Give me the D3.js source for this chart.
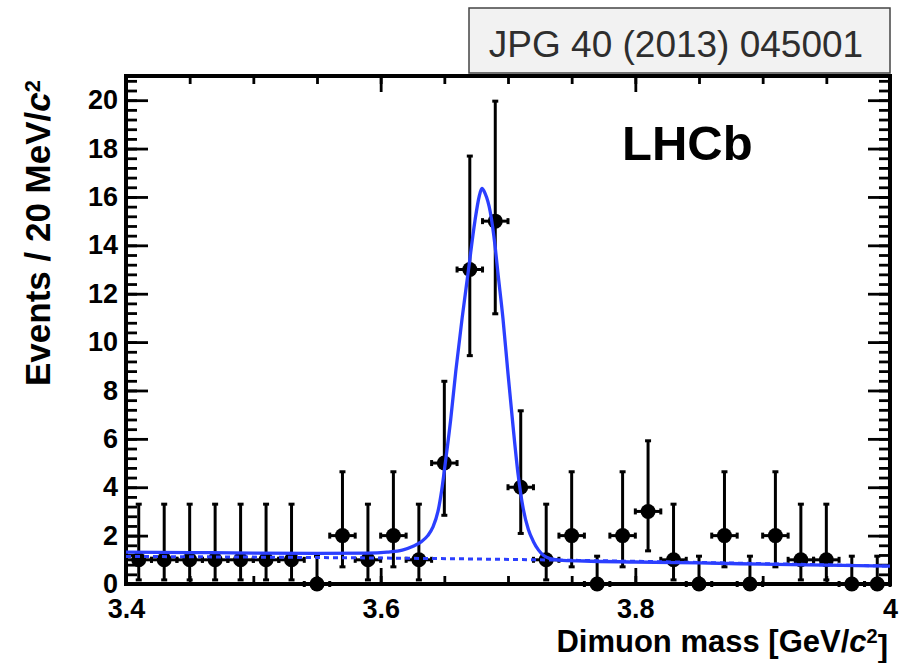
<!DOCTYPE html>
<html>
<head>
<meta charset="utf-8">
<script src="https://cdn.jsdelivr.net/npm/d3@7"></script>
<style>
  body { margin: 0; background: #fff; }
  svg text { font-family: "Liberation Sans", Arial, Helvetica, sans-serif; }
</style>
</head>
<body>
<div id="chart"></div>
<script>
// dimuon mass bins (GeV/c^2), 20 MeV wide
const binCenters = [3.41, 3.43, 3.45, 3.47, 3.49, 3.51, 3.53, 3.55, 3.57, 3.59,
                    3.61, 3.63, 3.65, 3.67, 3.69, 3.71, 3.73, 3.75, 3.77, 3.79,
                    3.81, 3.83, 3.85, 3.87, 3.89, 3.91, 3.93, 3.95, 3.97, 3.99];
const counts = [1, 1, 1, 1, 1, 1, 1, 0, 2, 1,
                2, 1, 5, 13, 15, 4, 1, 2, 0, 2,
                3, 1, 0, 2, 0, 2, 1, 1, 0, 0];
const errLow = [0.83, 0.83, 0.83, 0.83, 0.83, 0.83, 0.83, 0, 1.29, 0.83,
                1.29, 0.83, 2.16, 3.56, 3.83, 1.91, 0.83, 1.29, 0, 1.29,
                1.63, 0.83, 0, 1.29, 0, 1.29, 0.83, 0.83, 0, 0];
const errHigh = [2.30, 2.30, 2.30, 2.30, 2.30, 2.30, 2.30, 1.15, 2.64, 2.30,
                 2.64, 2.30, 3.38, 4.69, 4.96, 3.16, 2.30, 2.64, 1.15, 2.64,
                 2.92, 2.30, 1.15, 2.64, 1.15, 2.64, 2.30, 2.30, 1.15, 1.15];
const binHalfWidth = 0.01;

// fit curve (signal + background)
const fitMass = [3.400, 3.450, 3.500, 3.550, 3.590, 3.605, 3.617, 3.625, 3.632, 3.637,
                 3.641, 3.645, 3.648, 3.651, 3.655, 3.659, 3.664, 3.669, 3.674, 3.6775,
                 3.6795, 3.682, 3.686, 3.690, 3.692, 3.696, 3.700, 3.704, 3.708, 3.712,
                 3.716, 3.720, 3.724, 3.728, 3.733, 3.740, 3.760, 3.800, 3.850, 3.900,
                 3.950, 4.000];
const fitEvents = [1.32, 1.30, 1.28, 1.27, 1.28, 1.32, 1.40, 1.55, 1.75, 2.00,
                   2.35, 3.00, 3.90, 5.10, 6.80, 8.80, 11.00, 13.00, 15.00, 16.05,
                   16.35, 16.15, 15.40, 13.90, 12.90, 11.00, 8.70, 6.50, 4.50, 3.10,
                   2.25, 1.75, 1.40, 1.18, 1.05, 0.99, 0.95, 0.91, 0.87, 0.82,
                   0.78, 0.74];

// background component (dotted)
const bkgMass = [3.40, 3.68, 4.00];
const bkgEvents = [1.14, 1.03, 0.74];

const xTickLabels = [3.4, 3.6, 3.8, 4];
const xMinorTicks = [3.4, 3.45, 3.5, 3.55, 3.6, 3.65, 3.7, 3.75, 3.8, 3.85, 3.9, 3.95, 4.0];
const yTickLabels = [0, 2, 4, 6, 8, 10, 12, 14, 16, 18, 20];
const yMinorTicks = d3.range(0, 20.9, 0.4);

const svgWidth = 902;
const svgHeight = 663;
const frame = { left: 126, right: 890, top: 76, bottom: 584 };
const blue = "#2b3fff";

const svg = d3.select("#chart")
  .append("svg")
  .attr("width", svgWidth)
  .attr("height", svgHeight);

const x = d3.scaleLinear().domain([3.4, 4.0]).range([frame.left, frame.right]);
const y = d3.scaleLinear().domain([0, 21]).range([frame.bottom, frame.top]);

// reference label box
svg.append("rect")
  .attr("x", 469).attr("y", 8)
  .attr("width", 421).attr("height", 65)
  .attr("fill", "#f2f2f2")
  .attr("stroke", "#444")
  .attr("stroke-width", 1.5);
svg.append("text")
  .attr("x", 676).attr("y", 57)
  .attr("text-anchor", "middle")
  .style("font-size", "37px")
  .style("fill", "#2e2e2e")
  .text("JPG 40 (2013) 045001");

function styleAxis(g) {
  g.select(".domain").remove();
  g.selectAll(".tick line").attr("stroke", "#000").attr("stroke-width", 2.8);
  g.selectAll(".tick text")
    .style("font-size", "27px")
    .style("font-weight", "bold")
    .attr("fill", "#000");
}

// minor ticks on all four sides
svg.append("g")
  .attr("transform", `translate(0, ${frame.bottom})`)
  .call(d3.axisBottom(x).tickValues(xMinorTicks).tickSize(-8).tickFormat(""))
  .call(styleAxis);
svg.append("g")
  .attr("transform", `translate(0, ${frame.top})`)
  .call(d3.axisTop(x).tickValues(xMinorTicks).tickSize(-8).tickFormat(""))
  .call(styleAxis);
svg.append("g")
  .attr("transform", `translate(${frame.left}, 0)`)
  .call(d3.axisLeft(y).tickValues(yMinorTicks).tickSize(-11).tickFormat(""))
  .call(styleAxis);
svg.append("g")
  .attr("transform", `translate(${frame.right}, 0)`)
  .call(d3.axisRight(y).tickValues(yMinorTicks).tickSize(-11).tickFormat(""))
  .call(styleAxis);

// major ticks + labels
svg.append("g")
  .attr("transform", `translate(0, ${frame.bottom})`)
  .call(d3.axisBottom(x).tickValues(xTickLabels).tickSize(-16).tickPadding(15).tickFormat(d3.format("")))
  .call(styleAxis);
svg.append("g")
  .attr("transform", `translate(0, ${frame.top})`)
  .call(d3.axisTop(x).tickValues(xTickLabels).tickSize(-16).tickFormat(""))
  .call(styleAxis);
svg.append("g")
  .attr("transform", `translate(${frame.left}, 0)`)
  .call(d3.axisLeft(y).tickValues(yTickLabels).tickSize(-22).tickPadding(8))
  .call(styleAxis);
svg.append("g")
  .attr("transform", `translate(${frame.right}, 0)`)
  .call(d3.axisRight(y).tickValues(yTickLabels).tickSize(-22).tickFormat(""))
  .call(styleAxis);

// frame
svg.append("rect")
  .attr("x", frame.left).attr("y", frame.top)
  .attr("width", frame.right - frame.left)
  .attr("height", frame.bottom - frame.top)
  .attr("fill", "none")
  .attr("stroke", "#000")
  .attr("stroke-width", 4);

// data points with error bars
const points = binCenters.map((m, i) => ({
  mass: m, n: counts[i], lo: errLow[i], hi: errHigh[i]
}));

const pts = svg.append("g")
  .selectAll("g")
  .data(points)
  .enter().append("g")
  .attr("stroke", "#000")
  .attr("stroke-width", 3);

pts.append("line")
  .attr("x1", d => x(d.mass)).attr("x2", d => x(d.mass))
  .attr("y1", d => y(d.n - d.lo)).attr("y2", d => y(d.n + d.hi));
pts.append("line")
  .attr("x1", d => x(d.mass) - 3).attr("x2", d => x(d.mass) + 3)
  .attr("y1", d => y(d.n + d.hi)).attr("y2", d => y(d.n + d.hi));
pts.filter(d => d.lo > 0).append("line")
  .attr("x1", d => x(d.mass) - 3).attr("x2", d => x(d.mass) + 3)
  .attr("y1", d => y(d.n - d.lo)).attr("y2", d => y(d.n - d.lo));
pts.append("line")
  .attr("x1", d => x(d.mass - binHalfWidth)).attr("x2", d => x(d.mass + binHalfWidth))
  .attr("y1", d => y(d.n)).attr("y2", d => y(d.n));
pts.append("line")
  .attr("x1", d => x(d.mass - binHalfWidth)).attr("x2", d => x(d.mass - binHalfWidth))
  .attr("y1", d => y(d.n) - 3).attr("y2", d => y(d.n) + 3);
pts.append("line")
  .attr("x1", d => x(d.mass + binHalfWidth)).attr("x2", d => x(d.mass + binHalfWidth))
  .attr("y1", d => y(d.n) - 3).attr("y2", d => y(d.n) + 3);
pts.append("circle")
  .attr("cx", d => x(d.mass))
  .attr("cy", d => y(d.n))
  .attr("r", 7.5)
  .attr("stroke", "none")
  .attr("fill", "#000");

// background and total fit
const bkgLine = d3.line()
  .x((d, i) => x(bkgMass[i]))
  .y(d => y(d))
  .curve(d3.curveMonotoneX);
svg.append("path")
  .attr("d", bkgLine(bkgEvents))
  .attr("fill", "none")
  .attr("stroke", blue)
  .attr("stroke-width", 3)
  .attr("stroke-dasharray", "5,4");

const fitLine = d3.line()
  .x((d, i) => x(fitMass[i]))
  .y(d => y(d))
  .curve(d3.curveMonotoneX);
svg.append("path")
  .attr("d", fitLine(fitEvents))
  .attr("fill", "none")
  .attr("stroke", blue)
  .attr("stroke-width", 3.3);

// LHCb label
svg.append("text")
  .attr("x", 622).attr("y", 160)
  .style("font-size", "49px")
  .style("font-weight", "bold")
  .text("LHCb");

// axis titles
const xTitle = svg.append("text")
  .attr("x", 888).attr("y", 652)
  .attr("text-anchor", "end")
  .style("font-size", "31px")
  .style("font-weight", "bold");
xTitle.append("tspan").text("Dimuon mass [GeV/");
xTitle.append("tspan").style("font-style", "italic").text("c");
xTitle.append("tspan").attr("dy", "-0.45em").style("font-size", "20px").text("2");
xTitle.append("tspan").attr("dy", "0.45em").text("]");

const yTitle = svg.append("text")
  .attr("transform", "translate(50, 80) rotate(-90)")
  .attr("text-anchor", "end")
  .style("font-size", "35px")
  .style("font-weight", "bold");
yTitle.append("tspan").text("Events / 20 MeV/");
yTitle.append("tspan").style("font-style", "italic").text("c");
yTitle.append("tspan").attr("dy", "-0.45em").style("font-size", "22px").text("2");
</script>
</body>
</html>
